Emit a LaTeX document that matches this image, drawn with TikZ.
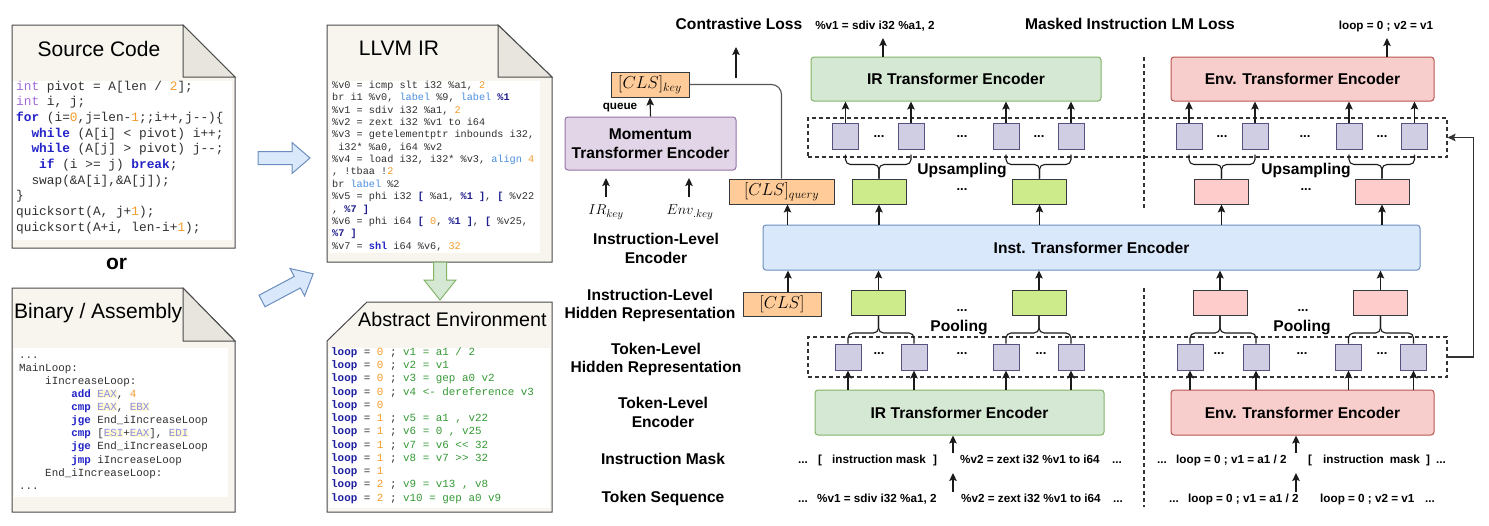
\documentclass[tikz,border=0pt]{standalone}
\usepackage{fontspec}
\setmainfont{Liberation Sans}
\setsansfont{Liberation Sans}
\setmonofont{Liberation Mono}
\usetikzlibrary{arrows.meta}
\definecolor{docfill}{HTML}{F7F5EE}
\definecolor{foldfill}{HTML}{E7E5DE}
\definecolor{docline}{HTML}{4A4A4A}
\definecolor{codegray}{HTML}{303030}
\definecolor{kwblue}{HTML}{2323C8}
\definecolor{kwpurp}{HTML}{A36BD8}
\definecolor{numor}{HTML}{F39C2B}
\definecolor{labblue}{HTML}{4A8FE0}
\definecolor{dkblue}{HTML}{1E1E8E}
\definecolor{lpblue}{HTML}{1E1EA0}
\definecolor{envgreen}{HTML}{369A36}
\definecolor{regc}{HTML}{8C8CE6}
\definecolor{reghl}{HTML}{FFFAD0}
\definecolor{bafill}{HTML}{DAE8FC}
\definecolor{baline}{HTML}{6C8EBF}
\definecolor{gafill}{HTML}{D5E8D4}
\definecolor{galine}{HTML}{82B366}
\definecolor{irfill}{HTML}{D5E8D4}
\definecolor{irline}{HTML}{82B366}
\definecolor{envfill}{HTML}{F8CECC}
\definecolor{envline}{HTML}{B85450}
\definecolor{instfill}{HTML}{DAE8FC}
\definecolor{instline}{HTML}{6C8EBF}
\definecolor{momfill}{HTML}{E1D5E7}
\definecolor{momline}{HTML}{9673A6}
\definecolor{ofill}{HTML}{FFCC99}
\definecolor{smline}{HTML}{36393D}
\definecolor{gsmfill}{HTML}{CDEB8B}
\definecolor{psmfill}{HTML}{FFCCCC}
\definecolor{sqfill}{HTML}{D0CEE2}
\definecolor{sqline}{HTML}{56517E}
\definecolor{arrc}{HTML}{1A1A1A}
\definecolor{dline}{HTML}{333333}
\definecolor{glinec}{HTML}{555555}
\newcommand{\kwd}[1]{\textcolor{kwblue}{\textbf{#1}}}
\newcommand{\typ}[1]{\textcolor{kwpurp}{#1}}
\newcommand{\nmb}[1]{\textcolor{numor}{#1}}
\newcommand{\lbb}[1]{\textcolor{labblue}{#1}}
\newcommand{\dkb}[1]{\textcolor{dkblue}{\textbf{#1}}}
\newcommand{\rgs}[1]{{\setlength{\fboxsep}{0pt}\colorbox{reghl}{\textcolor{regc}{#1}}}}
\newcommand{\lpn}[1]{\textcolor{lpblue}{\textbf{loop}} = \nmb{#1}}
\newcommand{\egr}[1]{\textcolor{envgreen}{#1}}
\tikzset{
  arr/.style={-{Stealth[length=8pt,width=7.5pt,inset=1.5pt]}, line width=1.1pt, draw=arrc},
  docshape/.style={fill=docfill, draw=docline, line width=1pt},
  foldtri/.style={fill=foldfill, draw=docline, line width=1pt},
  doctitle/.style={font=\fontsize{21}{24}\selectfont, inner sep=0, text height=0.72em, text depth=0pt},
  cline/.style={anchor=west, inner sep=0, text height=0.62em, text depth=0.18em, text=codegray},
  srccode/.style={cline, font=\ttfamily\fontsize{12.8}{14}\selectfont},
  asmcode/.style={cline, font=\ttfamily\fontsize{10.85}{12}\selectfont},
  ircode/.style={cline, font=\ttfamily\fontsize{10.2}{12}\selectfont},
  envcode/.style={cline, font=\ttfamily\fontsize{10.9}{12}\selectfont},
  barrow/.style={fill=bafill, draw=baline, line width=1pt},
  garrow/.style={fill=gafill, draw=galine, line width=1pt},
  lbl/.style={font=\bfseries\fontsize{15.6}{18.5}\selectfont, inner sep=0, align=center},
  lbl1/.style={lbl, text height=0.72em, text depth=0pt},
  smlbl/.style={font=\bfseries\fontsize{11.7}{14}\selectfont, inner sep=0, text height=0.72em, text depth=0pt},
  rowtxt/.style={smlbl, anchor=west},
  encbox/.style={draw, rounded corners=3pt, line width=1pt, inner sep=0, font=\bfseries\fontsize{15.6}{18.5}\selectfont, align=center},
  sqbox/.style={draw=sqline, fill=sqfill, line width=1pt, minimum width=26, minimum height=26, inner sep=0},
  gsm/.style={draw=smline, fill=gsmfill, line width=1pt, minimum width=54, minimum height=25, inner sep=0},
  psm/.style={gsm, fill=psmfill},
  obox/.style={draw=smline, fill=ofill, line width=1pt, inner sep=0, font=\fontsize{18}{20}\selectfont},
  dbox/.style={draw=dline, dash pattern=on 4pt off 3pt, line width=1.1pt, inner sep=0},
  dashline/.style={draw=dline, dash pattern=on 4pt off 3pt, line width=1.1pt},
  bracepath/.style={draw=arrc, line width=1.1pt, rounded corners=5pt},
  gline/.style={draw=glinec, line width=1.1pt, rounded corners=10pt},
  dotsl/.style={font=\bfseries\fontsize{13}{14}\selectfont, inner sep=0, text height=0.14em, text depth=0pt},
  mathlbl/.style={font=\fontsize{15}{17}\selectfont, inner sep=0},
}
\begin{document}
\begin{tikzpicture}[x=1pt,y=-1pt]
\useasboundingbox (0,0) rectangle (1489,525);

% ---------- Source Code document ----------
\filldraw[docshape] (12,25) -- (183,25) -- (235,77) -- (235,248) -- (12,248) -- cycle;
\filldraw[foldtri] (183,25) -- (183,77) -- (235,77) -- cycle;
\fill[white] (13,81) rectangle (232,240);
\node[doctitle] (srct) at (99,53) {Source Code};
\node[srccode] (s1) at (16,88) {\typ{int} pivot = A[len / \nmb{2}];};
\node[srccode] (s2) at (16,103.7) {\typ{int} i, j;};
\node[srccode] (s3) at (16,119.3) {\kwd{for} (i=\nmb{0},j=len-\nmb{1};;i++,j-{}-)\{};
\node[srccode] (s4) at (16,135) {~~\kwd{while} (A[i] < pivot) i++;};
\node[srccode] (s5) at (16,150.6) {~~\kwd{while} (A[j] > pivot) j-{}-;};
\node[srccode] (s6) at (16,166.3) {~~~\kwd{if} (i >= j) \kwd{break};};
\node[srccode] (s7) at (16,181.9) {~~swap(\&A[i],\&A[j]);};
\node[srccode] (s8) at (16,197.6) {\}};
\node[srccode] (s9) at (16,213.2) {quicksort(A, j+\nmb{1});};
\node[srccode] (s10) at (16,228.9) {quicksort(A+i, len-i+\nmb{1});};

\node[font=\bfseries\fontsize{21}{24}\selectfont, inner sep=0, text height=0.52em, text depth=0pt] (ortxt) at (116.5,267) {or};

% ---------- Binary / Assembly document ----------
\filldraw[docshape] (12,288) -- (183,288) -- (235,341) -- (235,512) -- (12,512) -- cycle;
\filldraw[foldtri] (183,288) -- (183,341) -- (235,341) -- cycle;
\fill[white] (14,348) rectangle (228,497);
\node[doctitle, anchor=west] (bint) at (14,315) {Binary / Assembly};
\node[asmcode] (a1) at (19,356) {...};
\node[asmcode] (a2) at (19,369.1) {MainLoop:};
\node[asmcode] (a3) at (19,382.2) {~~~~iIncreaseLoop:};
\node[asmcode] (a4) at (19,395.3) {~~~~~~~~\kwd{add} \rgs{EAX}, \nmb{4}};
\node[asmcode] (a5) at (19,408.4) {~~~~~~~~\kwd{cmp} \rgs{EAX}, \rgs{EBX}};
\node[asmcode] (a6) at (19,421.5) {~~~~~~~~\kwd{jge} End\_iIncreaseLoop};
\node[asmcode] (a7) at (19,434.6) {~~~~~~~~\kwd{cmp} [\rgs{ESI}+\rgs{EAX}], \rgs{EDI}};
\node[asmcode] (a8) at (19,447.7) {~~~~~~~~\kwd{jge} End\_iIncreaseLoop};
\node[asmcode] (a9) at (19,460.8) {~~~~~~~~\kwd{jmp} iIncreaseLoop};
\node[asmcode] (a10) at (19,473.9) {~~~~End\_iIncreaseLoop:};
\node[asmcode] (a11) at (19,487) {...};

% ---------- LLVM IR document ----------
\filldraw[docshape] (327,25) -- (498,25) -- (552,77) -- (552,262) -- (327,262) -- cycle;
\filldraw[foldtri] (498,25) -- (498,77) -- (552,77) -- cycle;
\fill[white] (330,81) rectangle (540,253);
\node[doctitle] (llt) at (399,52) {LLVM IR};
\node[ircode] (l1) at (332,86) {\%v0 = icmp slt i32 \%a1, \nmb{2}};
\node[ircode] (l2) at (332,98.4) {br i1 \%v0, \lbb{label} \%9, \lbb{label} \dkb{\%1}};
\node[ircode] (l3) at (332,110.8) {\%v1 = sdiv i32 \%a1, \nmb{2}};
\node[ircode] (l4) at (332,123.1) {\%v2 = zext i32 \%v1 to i64};
\node[ircode] (l5) at (332,135.5) {\%v3 = getelementptr inbounds i32,};
\node[ircode] (l6) at (332,147.9) {~i32* \%a0, i64 \%v2};
\node[ircode] (l7) at (332,160.3) {\%v4 = load i32, i32* \%v3, \lbb{align} \nmb{4}};
\node[ircode] (l8) at (332,172.7) {, !tbaa !\nmb{2}};
\node[ircode] (l9) at (332,185) {br \lbb{label} \%2};
\node[ircode] (l10) at (332,197.4) {\%v5 = phi i32 \dkb{[} \%a1, \dkb{\%1} \dkb{]}, \dkb{[} \%v22};
\node[ircode] (l11) at (332,209.8) {, \dkb{\%7} \dkb{]}};
\node[ircode] (l12) at (332,222.2) {\%v6 = phi i64 \dkb{[} \nmb{0}, \dkb{\%1} \dkb{]}, \dkb{[} \%v25,};
\node[ircode] (l13) at (332,234.6) {\dkb{\%7} \dkb{]}};
\node[ircode] (l14) at (332,247) {\%v7 = \kwd{shl} i64 \%v6, \nmb{32}};

% ---------- Abstract Environment document ----------
\filldraw[docshape] (327,341) -- (367,302) -- (552,302) -- (552,512) -- (327,512) -- cycle;
\fill[white] (329,348) rectangle (550,508);
\node[doctitle, anchor=west, font=\fontsize{19.7}{22}\selectfont] (abt) at (358,323) {Abstract Environment};
\node[envcode] (e1) at (331,353) {\lpn{0} ; \egr{v1 = a1 / 2}};
\node[envcode] (e2) at (331,366.3) {\lpn{0} ; \egr{v2 = v1}};
\node[envcode] (e3) at (331,379.5) {\lpn{0} ; \egr{v3 = gep a0 v2}};
\node[envcode] (e4) at (331,392.8) {\lpn{0} ; \egr{v4 <- dereference v3}};
\node[envcode] (e5) at (331,406.1) {\lpn{0}};
\node[envcode] (e6) at (331,419.4) {\lpn{1} ; \egr{v5 = a1 , v22}};
\node[envcode] (e7) at (331,432.6) {\lpn{1} ; \egr{v6 = 0 , v25}};
\node[envcode] (e8) at (331,445.9) {\lpn{1} ; \egr{v7 = v6 <{}< 32}};
\node[envcode] (e9) at (331,459.2) {\lpn{1} ; \egr{v8 = v7 >{}> 32}};
\node[envcode] (e10) at (331,472.4) {\lpn{1}};
\node[envcode] (e11) at (331,485.7) {\lpn{2} ; \egr{v9 = v13 , v8}};
\node[envcode] (e12) at (331,499) {\lpn{2} ; \egr{v10 = gep a0 v9}};

% ---------- block arrows ----------
\begin{scope}[shift={(258,158)}]
  \filldraw[barrow] (0,-6.5) -- (34,-6.5) -- (34,-15.5) -- (52,0) -- (34,15.5) -- (34,6.5) -- (0,6.5) -- cycle;
\end{scope}
\begin{scope}[shift={(262,301)}, rotate=28]
  \filldraw[barrow] (0,-6.5) -- (40,-6.5) -- (40,-15.5) -- (58,0) -- (40,15.5) -- (40,6.5) -- (0,6.5) -- cycle;
\end{scope}
\begin{scope}[shift={(440,262)}, rotate=-90]
  \filldraw[garrow] (0,-6.5) -- (18,-6.5) -- (18,-16) -- (38,0) -- (18,16) -- (18,6.5) -- (0,6.5) -- cycle;
\end{scope}

% ---------- top labels ----------
\node[lbl1] (closs) at (739,26) {Contrastive Loss};
\node[smlbl] (irout) at (875,26) {\%v1 = sdiv i32 \%a1, 2};
\node[lbl1] (mlm) at (1130,26) {Masked Instruction LM Loss};
\node[smlbl] (envout) at (1386,26) {loop = 0 ; v2 = v1};

% ---------- left labels ----------
\node[lbl] (lab1) at (656,248.5) {Instruction-Level\\Encoder};
\node[lbl] (lab2) at (650,305.5) {Instruction-Level\\Hidden Representation};
\node[lbl] (lab3) at (656,359.5) {Token-Level\\Hidden Representation};
\node[lbl] (lab4) at (663,412.5) {Token-Level\\Encoder};
\node[lbl1] (lab5) at (663,461) {Instruction Mask};
\node[lbl1] (lab6) at (663,499) {Token Sequence};

% ---------- dashed regions and separators ----------
\node[dbox, minimum width=639, minimum height=39] (tdash) at (1127.5,137.5) {};
\node[dbox, minimum width=639, minimum height=40] (bdash) at (1127.5,357) {};
\draw[dashline] (1144,57) -- (1144,208);
\draw[dashline] (1144,288) -- (1144,507);

% ---------- encoders ----------
\node[encbox, draw=irline, fill=irfill, minimum width=290, minimum height=44] (irtop) at (956,79) {IR Transformer Encoder};
\node[encbox, draw=envline, fill=envfill, minimum width=263, minimum height=44] (envtop) at (1302.5,79) {Env. Transformer Encoder};
\node[encbox, draw=instline, fill=instfill, minimum width=657, minimum height=45] (inst) at (1091.5,247.5) {Inst. Transformer Encoder};
\node[encbox, draw=irline, fill=irfill, minimum width=289, minimum height=45] (irbot) at (959.5,412.5) {IR Transformer Encoder};
\node[encbox, draw=envline, fill=envfill, minimum width=263, minimum height=45] (envbot) at (1302.5,412.5) {Env. Transformer Encoder};
\node[encbox, draw=momline, fill=momfill, minimum width=171, minimum height=53] (mom) at (650.5,143.5) {Momentum\\Transformer Encoder};

% ---------- CLS boxes ----------
\node[obox, minimum width=78, minimum height=25] (clskey) at (650,84.5) {$[CLS]_{key}$};
\node[obox, minimum width=105, minimum height=25] (clsq) at (781.5,191.5) {$[CLS]_{query}$};
\node[obox, minimum width=78, minimum height=24] (cls) at (782,304) {$[CLS]$};
\node[smlbl] (queue) at (620,106) {queue};
\node[mathlbl] (irk) at (606,212) {$IR_{key}$};
\node[mathlbl] (envk) at (690,212) {$Env_{.key}$};

% ---------- squares ----------
\foreach \n/\x in {1/845.5,2/911,3/1006,4/1071} \node[sqbox] (t\n) at (\x,136) {};
\foreach \n/\x in {1/1189,2/1255,3/1349,4/1414.5} \node[sqbox] (u\n) at (\x,136) {};
\foreach \n/\x in {1/848,2/914,3/1006,4/1071} \node[sqbox] (b\n) at (\x,357) {};
\foreach \n/\x in {1/1190,2/1256,3/1348.5,4/1413.5} \node[sqbox] (c\n) at (\x,357) {};

% ---------- small boxes ----------
\node[gsm] (g1) at (879,191.5) {};
\node[gsm] (g2) at (1039.5,191.5) {};
\node[psm] (p1) at (1221.5,191.5) {};
\node[psm] (p2) at (1382,191.5) {};
\node[gsm] (h1) at (878.5,303) {};
\node[gsm] (h2) at (1039,303) {};
\node[psm] (q1) at (1220,303) {};
\node[psm] (q2) at (1380.5,303) {};

% ---------- dots ----------
\foreach \x/\y [count=\i] in {879/137,962/137,1039/137,1222/137,1305/137,1382/137,962/190,1306/190,879/354,962/354,1041/354,1219/354,1302/354,1382/354,962/311,1303/311}
  \node[dotsl] (dt\i) at (\x,\y) {...};

% ---------- Upsampling / Pooling ----------
\node[lbl1] (ups1) at (962,171) {Upsampling};
\node[lbl1] (ups2) at (1306,171) {Upsampling};
\node[lbl1] (pool1) at (959,328) {Pooling};
\node[lbl1] (pool2) at (1302,328) {Pooling};

% ---------- braces ----------
\foreach \a/\b/\g in {t1/t2/g1, t3/t4/g2, u1/u2/p1, u3/u4/p2} {
  \draw[bracepath] ([yshift=-5pt]\a.south) |- ([yshift=14pt]\g.north) -- (\g.north);
  \draw[bracepath] ([yshift=-5pt]\b.south) |- ([yshift=14pt]\g.north) -- (\g.north);
}
\foreach \a/\b/\g in {b1/b2/h1, b3/b4/h2, c1/c2/q1, c3/c4/q2} {
  \draw[bracepath] (\a.north) |- ([yshift=-17pt]\g.south) -- (\g.south);
  \draw[bracepath] (\b.north) |- ([yshift=-17pt]\g.south) -- (\g.south);
}

% ---------- arrows ----------
\foreach \s in {t1,t2,t3,t4} \draw[arr] (\s.north) -- (\s.north |- irtop.south);
\foreach \s in {u1,u2,u3,u4} \draw[arr] (\s.north) -- (\s.north |- envtop.south);
\foreach \s in {g1,g2,p1,p2} \draw[arr] (\s.south |- inst.north) -- (\s.south);
\foreach \s in {h1,h2,q1,q2} \draw[arr] (\s.north) -- (\s.north |- inst.south);
\foreach \s in {b1,b2,b3,b4} \draw[arr] (\s.south |- irbot.north) -- (\s.south);
\foreach \s in {c1,c2,c3,c4} \draw[arr] (\s.south |- envbot.north) -- (\s.south);

\coordinate (clsa) at ([xshift=6pt]cls.north);
\draw[arr] (clsa) -- (clsa |- inst.south);
\coordinate (clsqa) at ([xshift=6pt]clsq.south);
\draw[arr] (clsqa |- inst.north) -- (clsqa);
\draw[arr] (mom.north) -- (clskey.south);
\draw[gline] (clskey.east) -| (clsq.north);
\coordinate (cla) at (736,78);
\coordinate (clb) at (736,47);
\draw[arr] (cla) -- (clb);
\draw[arr] (irtop.north -| 883,0) -- (883,38);
\draw[arr] (envtop.north -| 1387,0) -- (1387,38);
\coordinate (irka) at (606,197);
\coordinate (irkb) at (606,178);
\draw[arr] (irka) -- (irkb);
\coordinate (envka) at (689,197);
\coordinate (envkb) at (689,178);
\draw[arr] (envka) -- (envkb);
\draw[arr, draw=dline] (bdash.east) -- ++(26,0) |- (tdash.east);

% ---------- input rows ----------
\node[rowtxt] (m1) at (798,460) {...};
\node[rowtxt] (m2) at (818,460) {[};
\node[rowtxt] (m3) at (832,460) {instruction mask};
\node[rowtxt] (m4) at (933,460) {]};
\node[rowtxt] (m5) at (960,460) {\%v2 = zext i32 \%v1 to i64};
\node[rowtxt] (m6) at (1112,460) {...};
\node[rowtxt] (k1) at (798,499) {...};
\node[rowtxt] (k2) at (817,499) {\%v1 = sdiv i32 \%a1, 2};
\node[rowtxt] (k3) at (961,499) {\%v2 = zext i32 \%v1 to i64};
\node[rowtxt] (k4) at (1113,499) {...};
\node[rowtxt] (n1) at (1157,460) {...};
\node[rowtxt] (n2) at (1176,460) {loop = 0 ; v1 = a1 / 2};
\node[rowtxt] (n3) at (1308,460) {[};
\node[rowtxt] (n4) at (1323,460) {instruction\hspace{0.54em}mask};
\node[rowtxt] (n5) at (1426,460) {]};
\node[rowtxt] (n6) at (1436,460) {...};
\node[rowtxt] (o1) at (1169,499) {...};
\node[rowtxt] (o2) at (1188,499) {loop = 0 ; v1 = a1 / 2};
\node[rowtxt] (o3) at (1320,499) {loop = 0 ; v2 = v1};
\node[rowtxt] (o4) at (1425,499) {...};

\draw[arr] (953,453) -- (irbot.south -| 953,0);
\draw[arr] (953,492) -- (953,473);
\draw[arr] (1296,453) -- (envbot.south -| 1296,0);
\draw[arr] (1296,492) -- (1296,473);
\end{tikzpicture}
\end{document}
